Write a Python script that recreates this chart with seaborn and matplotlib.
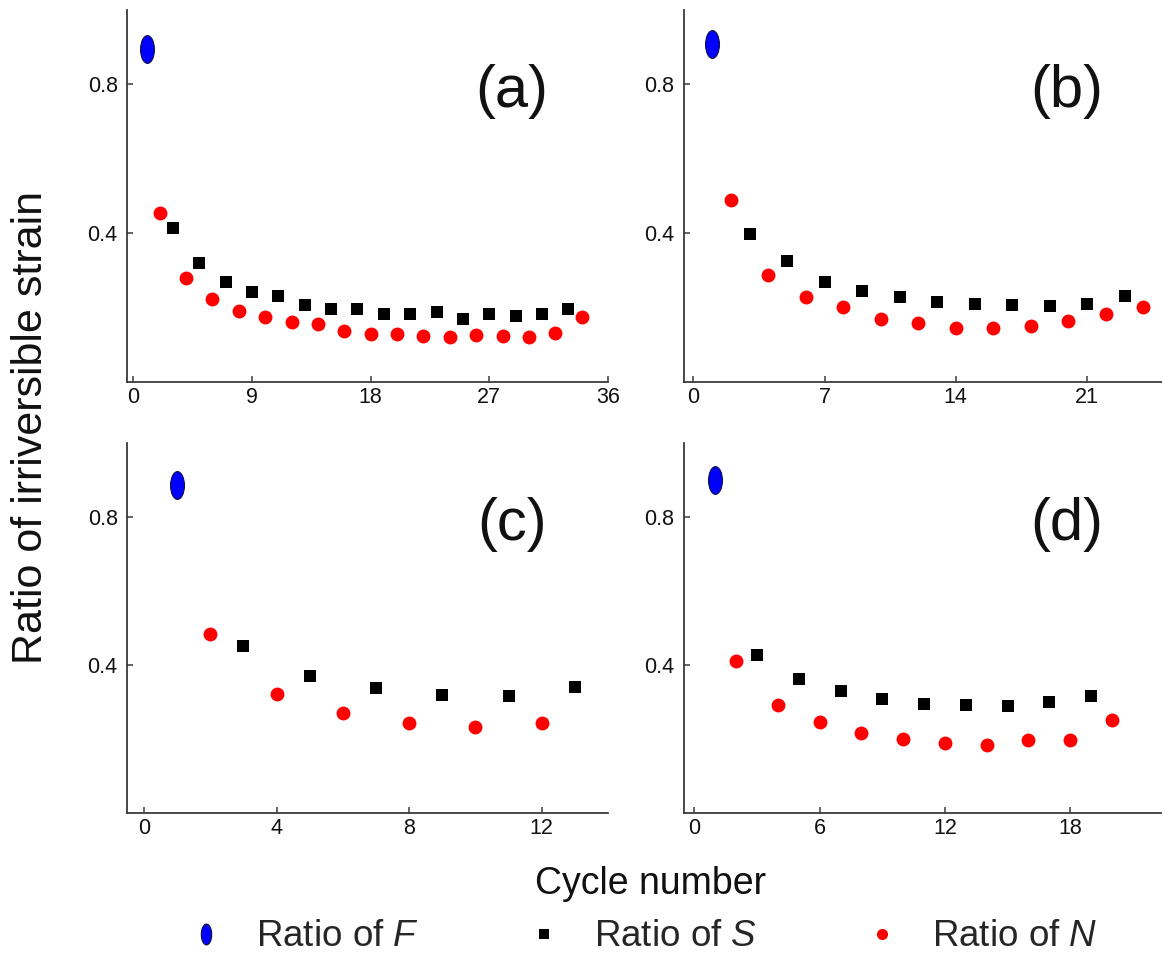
import numpy as np
import pandas as pd
import seaborn as sns
import matplotlib.pyplot as plt
from matplotlib.path import Path
from matplotlib.transforms import Affine2D
from matplotlib.lines import Line2D

# Valores (ciclo 1 = F, ciclos ímpares = S, ciclos pares = N)
f_cycle = [1]

f_a = [0.894]
s_cycles_a = [3, 5, 7, 9, 11, 13, 15, 17, 19, 21, 23, 25, 27, 29, 31, 33]
s_a = [0.413, 0.319, 0.268, 0.243, 0.230, 0.206, 0.195, 0.195, 0.183, 0.182,
       0.188, 0.170, 0.182, 0.177, 0.182, 0.195]
n_cycles_a = [2, 4, 6, 8, 10, 12, 14, 16, 18, 20, 22, 24, 26, 28, 30, 32, 34]
n_a = [0.454, 0.280, 0.222, 0.191, 0.175, 0.160, 0.156, 0.137, 0.129, 0.130,
       0.123, 0.121, 0.125, 0.123, 0.121, 0.132, 0.175]

f_b = [0.908]
s_cycles_b = [3, 5, 7, 9, 11, 13, 15, 17, 19, 21, 23]
s_b = [0.397, 0.324, 0.270, 0.245, 0.228, 0.216, 0.209, 0.208, 0.203, 0.209, 0.230]
n_cycles_b = [2, 4, 6, 8, 10, 12, 14, 16, 18, 20, 22, 24]
n_b = [0.489, 0.287, 0.228, 0.201, 0.168, 0.159, 0.146, 0.146, 0.150, 0.164,
       0.184, 0.201]

f_c = [0.886]
s_cycles_c = [3, 5, 7, 9, 11, 13]
s_c = [0.452, 0.371, 0.338, 0.319, 0.317, 0.341]
n_cycles_c = [2, 4, 6, 8, 10, 12]
n_c = [0.484, 0.321, 0.269, 0.244, 0.233, 0.243]

f_d = [0.901]
s_cycles_d = [3, 5, 7, 9, 11, 13, 15, 17, 19]
s_d = [0.428, 0.361, 0.330, 0.309, 0.294, 0.292, 0.290, 0.299, 0.316]
n_cycles_d = [2, 4, 6, 8, 10, 12, 14, 16, 18, 20]
n_d = [0.411, 0.291, 0.245, 0.216, 0.199, 0.190, 0.185, 0.198, 0.198, 0.252]

panel_labels = ['(a)', '(b)', '(c)', '(d)']
xticks_list = [[0, 9, 18, 27, 36], [0, 7, 14, 21], [0, 4, 8, 12], [0, 6, 12, 18]]
xlims = [(-0.45, 36), (-0.5, 25), (-0.5, 14), (-0.5, 22.4)]

panels = [
    (f_a, s_cycles_a, s_a, n_cycles_a, n_a),
    (f_b, s_cycles_b, s_b, n_cycles_b, n_b),
    (f_c, s_cycles_c, s_c, n_cycles_c, n_c),
    (f_d, s_cycles_d, s_d, n_cycles_d, n_d),
]

sns.set_style('ticks')
plt.rcParams['font.family'] = ['Liberation Sans', 'DejaVu Sans']
plt.rcParams['mathtext.fontset'] = 'custom'
plt.rcParams['mathtext.it'] = 'Liberation Sans:italic'
plt.rcParams['mathtext.rm'] = 'Liberation Sans'

# marcador elíptico vertical para F
ellipse = Path.unit_circle().transformed(Affine2D().scale(0.5, 1.0))

fig = plt.figure(figsize=(11.62, 9.58), dpi=100)
positions = [
    [0.1097, 0.6013, 0.4135, 0.3883],
    [0.5886, 0.6013, 0.4114, 0.3883],
    [0.1097, 0.1514, 0.4135, 0.3862],
    [0.5886, 0.1514, 0.4114, 0.3862],
]

spine_col = '#3a3a3a'
for i, (f, sc, s, nc, n) in enumerate(panels):
    ax = fig.add_axes(positions[i])
    df_f = pd.DataFrame({'cycle': f_cycle, 'ratio': f})
    df_s = pd.DataFrame({'cycle': sc, 'ratio': s})
    df_n = pd.DataFrame({'cycle': nc, 'ratio': n})
    sns.scatterplot(data=df_n, x='cycle', y='ratio', ax=ax, color='#ff0000',
                    marker='o', s=100, linewidth=0)
    sns.scatterplot(data=df_s, x='cycle', y='ratio', ax=ax, color='black',
                    marker='s', s=80, linewidth=0)
    sns.scatterplot(data=df_f, x='cycle', y='ratio', ax=ax, color='#0000ff',
                    marker=ellipse, s=400, edgecolor='#101040', linewidth=0.8)
    ax.set_xlim(*xlims[i])
    ax.set_ylim(0, 1.0)
    ax.set_xticks(xticks_list[i])
    ax.set_yticks([0.4, 0.8])
    ax.set_yticklabels(['0.4', '0.8'])
    ax.set_xlabel('')
    ax.set_ylabel('')
    sns.despine(ax=ax)
    for sp in ['left', 'bottom']:
        ax.spines[sp].set_color(spine_col)
        ax.spines[sp].set_linewidth(1.3)
    ax.tick_params(axis='both', direction='in', length=4, width=1.1,
                   color=spine_col, labelsize=15.5, labelcolor='#111111')
    ax.tick_params(axis='y', pad=7)
    ax.tick_params(axis='x', pad=3.5)
    ax.text(0.80, 0.78, panel_labels[i], transform=ax.transAxes,
            fontsize=43, ha='center', va='center', color='#111111')

fig.text(0.027, 0.554, 'Ratio of irriversible strain', rotation=90,
         fontsize=31, ha='center', va='center', color='#111111')
fig.text(0.560, 0.077, 'Cycle number', fontsize=27, ha='center', va='center',
         color='#111111')

handles = [
    Line2D([], [], linestyle='none', marker=ellipse, markersize=15,
           markerfacecolor='#0000ff', markeredgecolor='#101040', markeredgewidth=0.8),
    Line2D([], [], linestyle='none', marker='s', markersize=7.5,
           markerfacecolor='black', markeredgewidth=0),
    Line2D([], [], linestyle='none', marker='o', markersize=8,
           markerfacecolor='#ff0000', markeredgewidth=0),
]
labels = ['Ratio of $\\mathit{F}$', 'Ratio of $\\mathit{S}$', 'Ratio of $\\mathit{N}$']
fig.legend(handles, labels, loc='center', bbox_to_anchor=(0.553, 0.022), ncol=3,
           frameon=False, fontsize=26.5, handlelength=1.0, handletextpad=0.85,
           columnspacing=2.9)

fig.savefig('out.png', dpi=100)
